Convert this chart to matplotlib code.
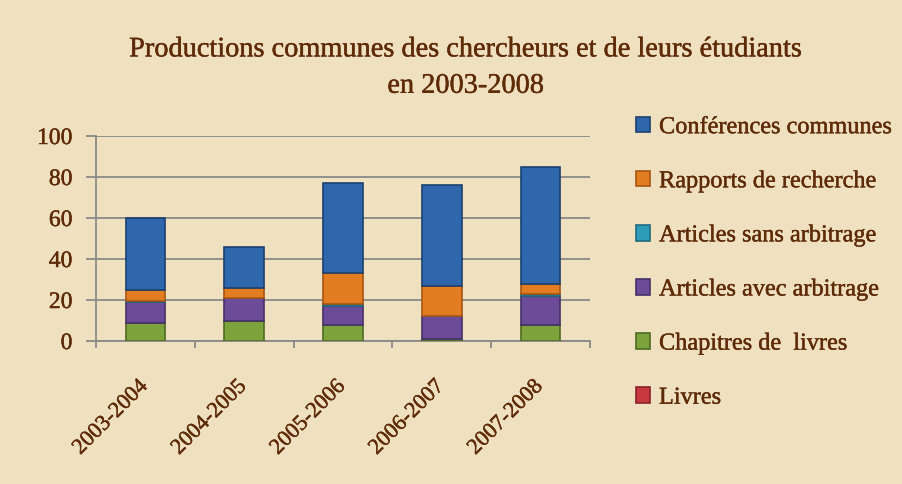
import matplotlib.pyplot as plt
import matplotlib.transforms as mtransforms
import matplotlib.patheffects as pe
import numpy as np

plt.rcParams['font.family'] = ['Liberation Serif', 'DejaVu Serif']

years = ['2003-2004', '2004-2005', '2005-2006', '2006-2007', '2007-2008']

livres = [0, 0, 0, 0, 0]
chapitres = [9, 10, 8, 1, 8]
avec_arbitrage = [10, 11, 9, 11, 14]
sans_arbitrage = [0.5, 0, 1, 0, 1]
rapports = [5.5, 5, 15, 15, 5]
conferences = [35, 20, 44, 49, 57]

series = [
    ('Livres', livres, '#C8383F', '#8A2229'),
    ('Chapitres de  livres', chapitres, '#7FA33C', '#4F6A22'),
    ('Articles avec arbitrage', avec_arbitrage, '#6C4C98', '#46306A'),
    ('Articles sans arbitrage', sans_arbitrage, '#2E9CB8', '#1D6A7E'),
    ('Rapports de recherche', rapports, '#E27D22', '#A85512'),
    ('Conférences communes', conferences, '#2F67AC', '#1C406F'),
]

text_color = '#5E2A08'
bg = '#EFE1C0'
# slightly heavier strokes, the original font is darker than Times
heavy = [pe.withStroke(linewidth=0.3, foreground=text_color)]

fig = plt.figure(figsize=(9.03, 4.85), dpi=100)
fig.patch.set_facecolor(bg)
ax = fig.add_axes([0.1063, 0.2948, 0.547, 0.4227])
ax.set_facecolor('none')

x = np.arange(len(years))
bottom = np.zeros(len(years))
handles = []
for name, vals, col, edge in series:
    vals = np.array(vals, dtype=float)
    b = ax.bar(x, vals, 0.4, bottom=bottom, color=col, edgecolor=edge,
               linewidth=1.2, label=name, zorder=3)
    handles.append(b)
    bottom += vals

ax.set_xlim(-0.5, len(years) - 0.5)
ax.set_ylim(0, 100)
ax.set_yticks(np.arange(0, 101, 20))
ax.grid(axis='y', color='#8A8A8A', linewidth=1.3, zorder=0)
ax.set_xticks(np.arange(-0.5, len(years), 1), minor=False)
ax.set_xticklabels([])
ax.tick_params(axis='x', which='major', length=5, color='#8A8A8A', width=1.3)
ax.tick_params(axis='y', length=7, color='#8A8A8A', width=1.3,
               labelsize=17, labelcolor=text_color, pad=10)
for t in ax.get_yticklabels():
    t.set_path_effects(heavy)

# rotated year labels under each bar
shift = mtransforms.ScaledTranslation(-5 / 72, -26 / 72, fig.dpi_scale_trans)
for xi, yr in zip(x, years):
    ax.text(xi, 0, yr, rotation=45, ha='right', va='top',
            rotation_mode='anchor', fontsize=16, color=text_color,
            transform=ax.get_xaxis_transform() + shift, path_effects=heavy)

for s in ['top', 'right']:
    ax.spines[s].set_visible(False)
for s in ['left', 'bottom']:
    ax.spines[s].set_color('#8A8A8A')
    ax.spines[s].set_linewidth(1.3)

fig.text(0.516, 0.895, 'Productions communes des chercheurs et de leurs étudiants',
         ha='center', va='center', fontsize=20.4, color=text_color,
         path_effects=heavy)
fig.text(0.516, 0.82, 'en 2003-2008', ha='center', va='center',
         fontsize=20.4, color=text_color, path_effects=heavy)

leg = fig.legend(handles[::-1], [s[0] for s in series][::-1],
                 loc='upper left', bbox_to_anchor=(0.68, 0.802),
                 frameon=False, fontsize=17.5, labelspacing=1.35,
                 handlelength=0.6, handleheight=0.6, handletextpad=0.35)
for t in leg.get_texts():
    t.set_color(text_color)
    t.set_path_effects(heavy)

fig.savefig('out.png', dpi=100, facecolor=bg)
